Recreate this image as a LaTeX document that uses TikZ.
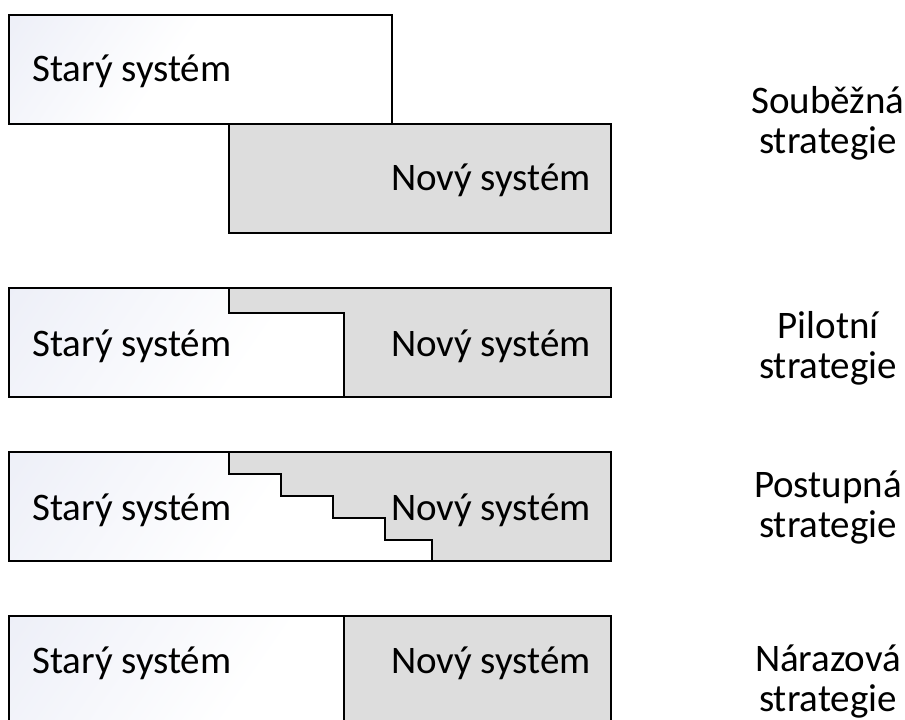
\documentclass[tikz,border=0pt]{standalone}
\usepackage{fontspec}
\setmainfont{Carlito}
\definecolor{newgray}{RGB}{221,221,221}
\definecolor{oldtint}{RGB}{228,231,244}
\pgfdeclarehorizontalshading{oldshade}{100bp}{color(0bp)=(oldtint); color(45bp)=(white); color(100bp)=(white)}
\tikzset{
  frame/.style={draw=black, line width=2.6pt, line join=miter},
  oldpart/.style={shading=oldshade, shading angle=-35},
  newpart/.style={fill=newgray, draw=black, line width=2.6pt, line join=miter},
  boxtext/.style={font=\fontsize{39}{47}\selectfont, inner sep=0pt},
  sidetext/.style={font=\fontsize{39}{47}\selectfont, inner sep=0pt, anchor=base}
}
\begin{document}
\begin{tikzpicture}[x=1pt, y=-1pt]
  \clip (0,0) rectangle (905,720);
  \fill[white] (0,0) rectangle (905,720);

  % parallel changeover: old and new systems run side by side
  \path[oldpart, frame] (9,15) rectangle (392,124);
  \path[newpart] (229,124) rectangle (611,233);
  \node[boxtext, anchor=base west] (old1) at (32,81) {Starý systém};
  \node[boxtext, anchor=base east] (new1) at (591,190) {Nový systém};

  % pilot changeover: one step
  \path[oldpart] (9,288) rectangle (611,397);
  \path[newpart] (229,288) -- (611,288) -- (611,397) -- (344,397)
     -- (344,313) -- (229,313) -- cycle;
  \path[frame] (9,288) rectangle (611,397);
  \node[boxtext, anchor=base west] (old2) at (32,356) {Starý systém};
  \node[boxtext, anchor=base east] (new2) at (591,356) {Nový systém};

  % phased changeover: staircase
  \path[oldpart] (9,452) rectangle (611,561);
  \path[newpart] (229,452) -- (611,452) -- (611,561) -- (432,561)
     -- (432,540) -- (385,540) -- (385,518) -- (333,518) -- (333,496)
     -- (281,496) -- (281,474) -- (229,474) -- cycle;
  \path[frame] (9,452) rectangle (611,561);
  \node[boxtext, anchor=base west] (old3) at (32,520) {Starý systém};
  \node[boxtext, anchor=base east] (new3) at (591,520) {Nový systém};

  % direct changeover: hard cut
  \path[oldpart] (9,616) rectangle (611,725);
  \path[newpart] (344,616) rectangle (611,725);
  \path[frame] (9,616) rectangle (611,725);
  \node[boxtext, anchor=base west] (old4) at (32,673) {Starý systém};
  \node[boxtext, anchor=base east] (new4) at (591,673) {Nový systém};

  % strategy names
  \node[sidetext] (s1a) at (828,113) {Souběžná};
  \node[sidetext] (s1b) at (828,153) {strategie};
  \node[sidetext] (s2a) at (828,338) {Pilotní};
  \node[sidetext] (s2b) at (828,378) {strategie};
  \node[sidetext] (s3a) at (828,497) {Postupná};
  \node[sidetext] (s3b) at (828,537) {strategie};
  \node[sidetext] (s4a) at (828,671) {Nárazová};
  \node[sidetext] (s4b) at (828,711) {strategie};
\end{tikzpicture}
\end{document}
